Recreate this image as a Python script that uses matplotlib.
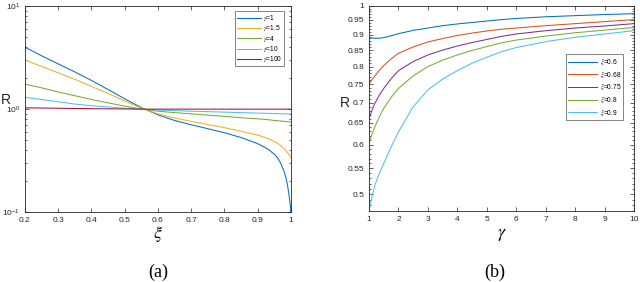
import numpy as np
import matplotlib
matplotlib.use("Agg")
import matplotlib.pyplot as plt
from matplotlib.ticker import FixedLocator, NullFormatter, LogLocator

plt.rcParams['font.family'] = ['Liberation Sans', 'DejaVu Sans']
plt.rcParams['mathtext.fontset'] = 'stix'

# (a) R versus xi for several gamma
xi = [0.2, 0.25, 0.3, 0.35, 0.4, 0.45, 0.5, 0.55, 0.6, 0.65, 0.7, 0.75,
      0.8, 0.85, 0.9, 0.93, 0.95, 0.96, 0.97, 0.98, 0.985, 0.99, 0.995, 0.999, 1.0]
r_g1 = [4.0, 3.3, 2.75, 2.3, 1.9, 1.55, 1.26, 1.035, 0.88, 0.776, 0.705, 0.645,
        0.59, 0.53, 0.462, 0.41, 0.365, 0.335, 0.295, 0.245, 0.215, 0.18, 0.14, 0.11, 0.08]
r_g15 = [3.0, 2.6, 2.25, 1.95, 1.66, 1.42, 1.2, 1.02, 0.9, 0.82, 0.76, 0.71,
         0.66, 0.61, 0.56, 0.52, 0.485, 0.465, 0.44, 0.41, 0.395, 0.378, 0.36, 0.342, 0.334]
r_g4 = [1.75, 1.61, 1.47, 1.35, 1.24, 1.15, 1.07, 1.0, 0.955, 0.925, 0.9, 0.875,
        0.85, 0.825, 0.805, 0.79, 0.777, 0.772, 0.766, 0.76, 0.757, 0.755, 0.752, 0.75, 0.75]
r_g10 = [1.3, 1.24, 1.18, 1.12, 1.08, 1.05, 1.02, 1.0, 0.98, 0.967, 0.955, 0.945,
         0.935, 0.925, 0.915, 0.91, 0.906, 0.904, 0.902, 0.9, 0.899, 0.898, 0.897, 0.896, 0.895]
r_g100 = [1.03, 1.025, 1.02, 1.015, 1.01, 1.007, 1.004, 1.0, 1.0, 1.0, 1.0, 1.0,
          1.0, 1.0, 1.0, 1.0, 1.0, 1.0, 1.0, 1.0, 1.0, 1.0, 1.0, 1.0, 1.0]
gamma_labels = [r'$\gamma$=1', r'$\gamma$=1.5', r'$\gamma$=4', r'$\gamma$=10', r'$\gamma$=100']

# (b) R versus gamma for several xi
gam = [1, 1.1, 1.2, 1.35, 1.5, 1.75, 2, 2.5, 3, 3.5, 4, 4.5, 5, 5.5, 6, 7, 8, 9, 10]
r_x60 = [0.891, 0.889, 0.888, 0.888, 0.89, 0.896, 0.903, 0.914, 0.922, 0.93,
         0.936, 0.941, 0.946, 0.951, 0.955, 0.961, 0.965, 0.969, 0.972]
r_x68 = [0.75, 0.762, 0.773, 0.789, 0.803, 0.823, 0.84, 0.86, 0.876, 0.887,
         0.897, 0.905, 0.912, 0.918, 0.922, 0.93, 0.937, 0.944, 0.951]
r_x75 = [0.66, 0.681, 0.699, 0.72, 0.738, 0.765, 0.788, 0.815, 0.835, 0.85,
         0.863, 0.874, 0.884, 0.894, 0.902, 0.913, 0.922, 0.929, 0.937]
r_x80 = [0.604, 0.623, 0.641, 0.665, 0.686, 0.714, 0.738, 0.773, 0.8, 0.819,
         0.835, 0.849, 0.861, 0.873, 0.882, 0.895, 0.906, 0.915, 0.924]
r_x90 = [0.47, 0.495, 0.517, 0.54, 0.56, 0.595, 0.629, 0.69, 0.734, 0.764,
         0.788, 0.81, 0.828, 0.845, 0.858, 0.877, 0.891, 0.902, 0.913]
xi_labels = [r'$\xi$=0.6', r'$\xi$=0.68', r'$\xi$=0.75', r'$\xi$=0.8', r'$\xi$=0.9']

c_left = ['#0072BD', '#EDB120', '#77AC30', '#4DBEEE', '#A2142F']
c_right = ['#0072BD', '#D95319', '#7E2F8E', '#77AC30', '#4DBEEE']
axis_col = '#262626'


def style_axes(ax):
    for s in ax.spines.values():
        s.set_color(axis_col)
        s.set_linewidth(0.6)
    ax.tick_params(which='both', direction='in', top=True, right=True,
                   colors=axis_col, labelsize=6, width=0.5)
    ax.tick_params(which='major', length=3)
    ax.tick_params(which='minor', length=1.6)


fig = plt.figure(figsize=(6.4, 2.82), dpi=100)

# panel (a)
ax1 = fig.add_axes([0.039, 0.248, 0.4156, 0.730])
for ys, c, lab in zip([r_g1, r_g15, r_g4, r_g10, r_g100], c_left, gamma_labels):
    ax1.plot(xi, ys, color=c, lw=0.75, label=lab)
ax1.set_yscale('log')
ax1.set_xlim(0.2, 1)
ax1.set_ylim(0.1, 10)
ax1.yaxis.set_minor_locator(LogLocator(base=10, subs=np.arange(2, 10)))
ax1.yaxis.set_minor_formatter(NullFormatter())
ax1.set_xticks([0.2, 0.3, 0.4, 0.5, 0.6, 0.7, 0.8, 0.9, 1])
ax1.set_xticklabels(['0.2', '0.3', '0.4', '0.5', '0.6', '0.7', '0.8', '0.9', '1'])
style_axes(ax1)
ax1.set_xlabel(r'$\xi$', fontsize=13, labelpad=0)
leg1 = ax1.legend(loc='upper right', bbox_to_anchor=(0.975, 0.975), fontsize=4.8,
                  handlelength=3.6, frameon=True, fancybox=False, edgecolor=axis_col,
                  borderpad=0.25, labelspacing=0.05, handletextpad=0.4, borderaxespad=0)
leg1.get_frame().set_linewidth(0.5)

# panel (b)
ax2 = fig.add_axes([0.5766, 0.2518, 0.414, 0.727])
for ys, c, lab in zip([r_x60, r_x68, r_x75, r_x80, r_x90], c_right, xi_labels):
    ax2.plot(gam, ys, color=c, lw=0.75, label=lab)
ax2.set_yscale('log')
ax2.set_xlim(1, 10)
ax2.set_ylim(0.47, 1)
ax2.set_xticks(range(1, 11))
major = [0.5, 0.55, 0.6, 0.65, 0.7, 0.75, 0.8, 0.85, 0.9, 0.95, 1.0]
ax2.yaxis.set_major_locator(FixedLocator(major))
ax2.set_yticklabels(['%g' % v for v in major])
minor = [v / 100 for v in range(47, 101) if v % 5 != 0]
ax2.yaxis.set_minor_locator(FixedLocator(minor))
ax2.yaxis.set_minor_formatter(NullFormatter())
style_axes(ax2)
ax2.set_xlabel(r'$\gamma$', fontsize=13, labelpad=2)
leg2 = ax2.legend(loc='upper right', bbox_to_anchor=(0.96, 0.765), fontsize=4.8,
                  handlelength=4.4, frameon=True, fancybox=False, edgecolor=axis_col,
                  borderpad=0.3, labelspacing=0.25, handletextpad=0.4, borderaxespad=0)
leg2.get_frame().set_linewidth(0.5)

# horizontal R labels and panel captions
fig.text(6 / 640, 1 - 100 / 282, 'R', fontsize=10, ha='center', va='center', color=axis_col)
fig.text(345 / 640, 1 - 103 / 282, 'R', fontsize=10, ha='center', va='center', color=axis_col)
fig.text(158 / 640, 1 - 272 / 282, '(a)', fontsize=13, ha='center', va='center',
         family='Liberation Serif')
fig.text(495 / 640, 1 - 272 / 282, '(b)', fontsize=13, ha='center', va='center',
         family='Liberation Serif')

fig.savefig('out.png', dpi=100)
